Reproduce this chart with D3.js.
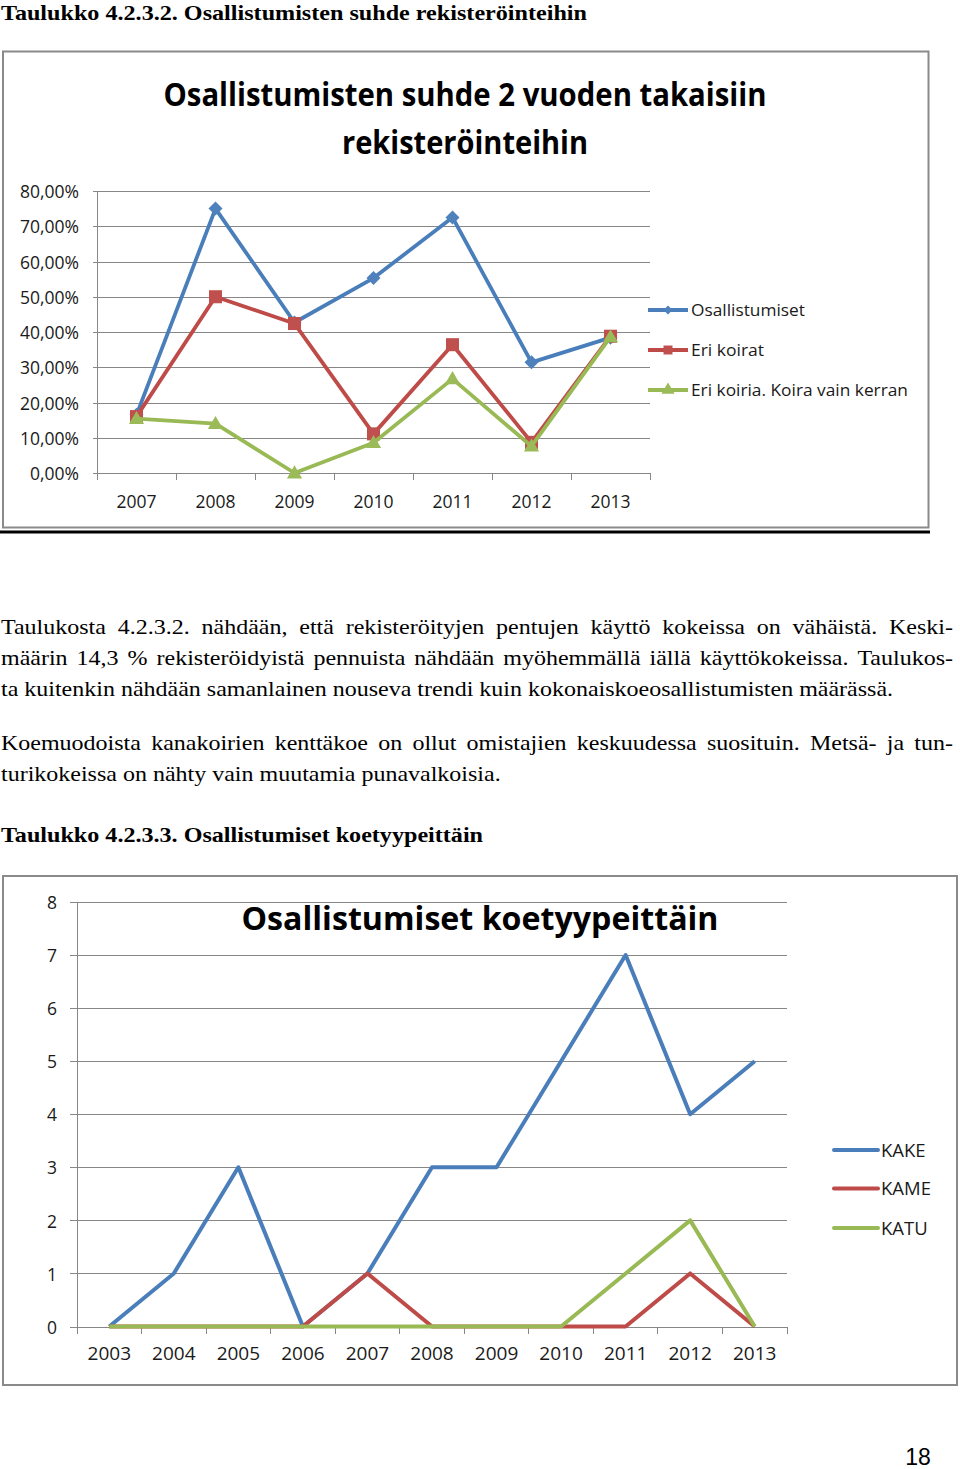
<!DOCTYPE html>
<html><head><meta charset="utf-8">
<script src="https://cdn.jsdelivr.net/npm/d3@7"></script>
<style>body{margin:0;background:#fff}svg{display:block}</style>
</head><body>
<svg id="page" width="960" height="1469"></svg>
<script>
// ---------- Data: chart 1 ----------
const years1 = ["2007","2008","2009","2010","2011","2012","2013"];
const osallistumiset = [16.5, 75.0, 42.7, 55.3, 72.5, 31.4, 38.4];
const eriKoirat = [16.0, 50.0, 42.4, 11.1, 36.4, 8.7, 38.8];
const eriKoiriaKerran = [15.4, 14.0, 0.0, 8.6, 26.7, 7.6, 38.6];
const series1Names = ["Osallistumiset","Eri koirat","Eri koiria. Koira vain kerran"];
const ticks1 = [0,10,20,30,40,50,60,70,80];
const tickLabels1 = ["0,00%","10,00%","20,00%","30,00%","40,00%","50,00%","60,00%","70,00%","80,00%"];
const title1 = ["Osallistumisten suhde 2 vuoden takaisiin","rekisteröinteihin"];

// ---------- Data: chart 2 ----------
const years2 = ["2003","2004","2005","2006","2007","2008","2009","2010","2011","2012","2013"];
const kake = [0,1,3,0,1,3,3,5,7,4,5];
const kame = [0,0,0,0,1,0,0,0,0,1,0];
const katu = [0,0,0,0,0,0,0,0,1,2,0];
const series2Names = ["KAKE","KAME","KATU"];
const ticks2 = [0,1,2,3,4,5,6,7,8];
const title2 = "Osallistumiset koetyypeittäin";

// ---------- Text ----------
const heading1 = "Taulukko 4.2.3.2. Osallistumisten suhde rekisteröinteihin";
const heading2 = "Taulukko 4.2.3.3. Osallistumiset koetyypeittäin";
const para1 = [
  ["Taulukosta 4.2.3.2. nähdään, että rekisteröityjen pentujen käyttö kokeissa on vähäistä. Keski-", true],
  ["määrin 14,3 % rekisteröidyistä pennuista nähdään myöhemmällä iällä käyttökokeissa. Taulukos-", true],
  ["ta kuitenkin nähdään samanlainen nouseva trendi kuin kokonaiskoeosallistumisten määrässä.", false]
];
const para2 = [
  ["Koemuodoista kanakoirien kenttäkoe on ollut omistajien keskuudessa suosituin. Metsä- ja tun-", true],
  ["turikokeissa on nähty vain muutamia punavalkoisia.", false]
];
const pageNumber = "18";

const lineCols = ["#4A7EBB","#BE4B48","#98B954"];
const fillCols = ["#4F81BD","#C0504D","#9BBB59"];
const SANS = "'Open Sans','Noto Sans','DejaVu Sans',sans-serif";
const SERIF = "'Liberation Serif','DejaVu Serif',serif";
const GRID = "#878787";

const svg = d3.select("#page");

function fit(sel, w){
  sel.each(function(){
    const l = this.getComputedTextLength();
    if (Math.abs(l - w) > 0.5){
      this.setAttribute("textLength", w);
      this.setAttribute("lengthAdjust", "spacingAndGlyphs");
    }
  });
}

// paragraph text: words drawn one by one, stretched horizontally by a common factor
const ptxt = svg.append("g").attr("font-family", SERIF).attr("font-size", 21).attr("fill", "#000");
function measure(str){
  const t = ptxt.append("text").text(str);
  const w = t.node().getComputedTextLength();
  t.remove();
  return w;
}
const spaceW0 = measure("a a") - measure("aa");
const stretch = 892 / measure(para1[2][0]);
function drawLine(text, x0, x1, y, justify){
  const words = text.split(" ");
  const widths = words.map(w => measure(w) * stretch);
  const total = d3.sum(widths);
  const gap = justify ? (x1 - x0 - total) / (words.length - 1) : spaceW0 * stretch;
  let x = x0;
  words.forEach((w, i) => {
    ptxt.append("text").attr("x", x).attr("y", y).text(w)
      .attr("textLength", widths[i]).attr("lengthAdjust", "spacingAndGlyphs");
    x += widths[i] + gap;
  });
}
const pb1 = [634, 665, 696];
para1.forEach((l, i) => drawLine(l[0], 1, 953, pb1[i], l[1]));
const pb2 = [750, 781];
para2.forEach((l, i) => drawLine(l[0], 1, 953, pb2[i], l[1]));

const txt = svg.append("g").attr("font-family", SERIF).attr("fill", "#000");
txt.append("text").attr("x", 1).attr("y", 20).attr("font-size", 22).attr("font-weight", "bold")
  .text(heading1).call(fit, 586);
txt.append("text").attr("x", 1).attr("y", 842).attr("font-size", 22).attr("font-weight", "bold")
  .text(heading2).call(fit, 482);
svg.append("text").attr("x", 918).attr("y", 1465).attr("text-anchor", "middle")
  .attr("font-family", "'Liberation Sans',Arial,sans-serif").attr("font-size", 23).text(pageNumber);

// ---------- Chart 1 ----------
const c1 = svg.append("g");
c1.append("rect").attr("x", 3).attr("y", 51.5).attr("width", 925.5).attr("height", 476)
  .attr("fill", "#fff").attr("stroke", "#8a8a8a").attr("stroke-width", 2);
c1.append("rect").attr("x", 0).attr("y", 530.5).attr("width", 930).attr("height", 3).attr("fill", "#000");

c1.selectAll("text.title").data(title1).join("text").attr("class", "title")
  .attr("x", 465).attr("y", (d, i) => 106 + i * 48).attr("text-anchor", "middle")
  .attr("font-family", SANS).attr("font-weight", "bold").attr("font-size", 32).attr("fill", "#000")
  .text(d => d)
  .each(function(d, i){ d3.select(this).call(fit, i === 0 ? 603 : 246); });

const x1 = d3.scaleBand().domain(years1).range([97, 650]);
const y1 = d3.scaleLinear().domain([0, 80]).range([473, 191]);

const yAx1 = c1.append("g").attr("transform", "translate(650,0)")
  .call(d3.axisLeft(y1).tickValues(ticks1).tickFormat((d, i) => tickLabels1[i]).tickSize(557).tickPadding(14));
yAx1.select(".domain").remove();
yAx1.selectAll("line").attr("stroke", GRID).attr("shape-rendering", "crispEdges");
yAx1.selectAll("text").attr("font-family", SANS).attr("font-size", 17.5).attr("fill", "#1a1a1a").attr("dy", "0.38em");

c1.append("line").attr("x1", 97).attr("x2", 97).attr("y1", y1(80)).attr("y2", y1(0))
  .attr("stroke", GRID).attr("shape-rendering", "crispEdges");
const bounds1 = years1.map(d => x1(d)).concat([x1(years1[years1.length-1]) + x1.bandwidth()]);
c1.selectAll("line.xt").data(bounds1).join("line").attr("class", "xt")
  .attr("x1", d => d).attr("x2", d => d).attr("y1", y1(0)).attr("y2", y1(0) + 7)
  .attr("stroke", GRID).attr("shape-rendering", "crispEdges");
const xAx1 = c1.append("g").attr("transform", `translate(0,${y1(0)})`)
  .call(d3.axisBottom(x1).tickSize(0).tickPadding(23));
xAx1.select(".domain").remove();
xAx1.selectAll("text").attr("font-family", SANS).attr("font-size", 17.5).attr("fill", "#1a1a1a");

const s1 = [osallistumiset, eriKoirat, eriKoiriaKerran];
const line1 = d3.line().x((d, i) => x1(years1[i]) + x1.bandwidth() / 2).y(d => y1(d));
const symTypes = [d3.symbolSquare, d3.symbolSquare, d3.symbolTriangle];
const symSizes = [98, 170, 100];
const symRot = [45, 0, 0];
s1.forEach((vals, k) => {
  c1.append("path").datum(vals).attr("d", line1).attr("fill", "none")
    .attr("stroke", lineCols[k]).attr("stroke-width", 3.8).attr("stroke-linejoin", "round");
  c1.selectAll(`path.m${k}`).data(vals).join("path").attr("class", `m${k}`)
    .attr("d", d3.symbol().type(symTypes[k]).size(symSizes[k]))
    .attr("transform", (d, i) => `translate(${x1(years1[i]) + x1.bandwidth()/2},${y1(d) + (k===2?1:0)}) rotate(${symRot[k]})`)
    .attr("fill", fillCols[k]);
});

// legend 1
const leg1 = c1.append("g");
const legY1 = [310, 350, 390];
const legSym = [40, 80, 75];
series1Names.forEach((n, k) => {
  leg1.append("line").attr("x1", 648).attr("x2", 688).attr("y1", legY1[k]).attr("y2", legY1[k])
    .attr("stroke", lineCols[k]).attr("stroke-width", 3.8);
  leg1.append("path").attr("d", d3.symbol().type(symTypes[k]).size(legSym[k]))
    .attr("transform", `translate(668,${legY1[k]}) rotate(${symRot[k]})`).attr("fill", fillCols[k]);
  leg1.append("text").attr("x", 691).attr("y", legY1[k] + 6).attr("font-family", SANS)
    .attr("font-size", 17).attr("fill", "#1a1a1a").text(n)
    .call(fit, [114, 73, 217][k]);
});

// ---------- Chart 2 ----------
const c2 = svg.append("g");
c2.append("rect").attr("x", 3).attr("y", 876).attr("width", 954).attr("height", 509)
  .attr("fill", "#fff").attr("stroke", "#8a8a8a").attr("stroke-width", 2);

const x2 = d3.scaleBand().domain(years2).range([77, 787]);
const y2 = d3.scaleLinear().domain([0, 8]).range([1326.5, 902]);

const yAx2 = c2.append("g").attr("transform", "translate(787,0)")
  .call(d3.axisLeft(y2).tickValues(ticks2).tickFormat(d3.format("d")).tickSize(717).tickPadding(13));
yAx2.select(".domain").remove();
yAx2.selectAll("line").attr("stroke", GRID).attr("shape-rendering", "crispEdges");
yAx2.selectAll("text").attr("font-family", SANS).attr("font-size", 17.5).attr("fill", "#1a1a1a").attr("dy", "0.38em");

c2.append("line").attr("x1", 77).attr("x2", 77).attr("y1", y2(8)).attr("y2", y2(0))
  .attr("stroke", GRID).attr("shape-rendering", "crispEdges");
const bounds2 = years2.map(d => x2(d)).concat([x2(years2[years2.length-1]) + x2.bandwidth()]);
c2.selectAll("line.xt").data(bounds2).join("line").attr("class", "xt")
  .attr("x1", d => d).attr("x2", d => d).attr("y1", y2(0)).attr("y2", y2(0) + 7)
  .attr("stroke", GRID).attr("shape-rendering", "crispEdges");
const xAx2 = c2.append("g").attr("transform", `translate(0,${y2(0)})`)
  .call(d3.axisBottom(x2).tickSize(0).tickPadding(20));
xAx2.select(".domain").remove();
xAx2.selectAll("text").attr("font-family", SANS).attr("font-size", 19).attr("fill", "#1a1a1a");

c2.append("text").attr("x", 480).attr("y", 930).attr("text-anchor", "middle")
  .attr("font-family", SANS).attr("font-weight", "bold").attr("font-size", 32).attr("fill", "#000")
  .text(title2).call(fit, 477);

const s2 = [kake, kame, katu];
const line2 = d3.line().x((d, i) => x2(years2[i]) + x2.bandwidth() / 2).y(d => y2(d));
s2.forEach((vals, k) => {
  c2.append("path").datum(vals).attr("d", line2).attr("fill", "none")
    .attr("stroke", lineCols[k]).attr("stroke-width", 4).attr("stroke-linejoin", "round");
});

const legY2 = [1150, 1188.5, 1228];
series2Names.forEach((n, k) => {
  c2.append("line").attr("x1", 834).attr("x2", 878).attr("y1", legY2[k]).attr("y2", legY2[k])
    .attr("stroke", lineCols[k]).attr("stroke-width", 4).attr("stroke-linecap", "round");
  c2.append("text").attr("x", 881).attr("y", legY2[k] + 6.5).attr("font-family", SANS)
    .attr("font-size", 18.5).attr("fill", "#1a1a1a").text(n);
});
</script>
</body></html>
